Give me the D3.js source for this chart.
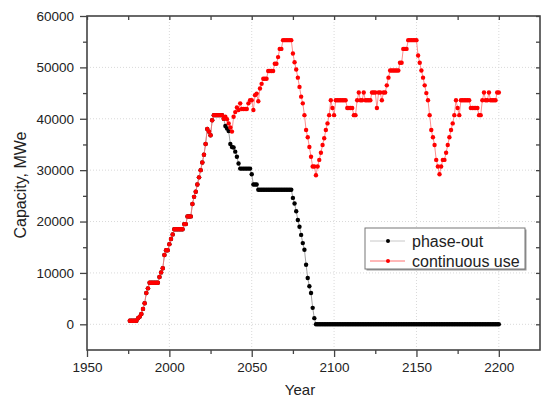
<!DOCTYPE html>
<html>
<head>
<meta charset="utf-8">
<script src="https://cdn.jsdelivr.net/npm/d3@7"></script>
<style>
  body { margin: 0; background: #fff; }
  text { font-family: Arial, "Liberation Sans", sans-serif; fill: #222; }
</style>
</head>
<body>
<div id="chart"></div>
<script>
const startYear = 1976;

// continuous use, one value per year from 1976 to 2200 (MWe)
const continuousUse = [
  700, 700, 700, 700, 700, 1200, 1500, 2000, 3000, 4100,
  6100, 7000, 8100, 8100, 8100, 8100, 8100, 8100, 9200, 10100,
  10900, 13500, 14400, 14400, 15600, 16600, 17500, 18500, 18500, 18500,
  18500, 18500, 18500, 19500, 19500, 21000, 21000, 21000, 23400, 24800,
  25800, 27200, 28600, 30000, 31500, 33000, 35100, 38000, 37500, 36800,
  39700, 40700, 40700, 40700, 40700, 40700, 40700, 40000, 40400, 39900,
  39100, 38300, 37500, 40400, 41300, 42200, 41700, 43000, 41900, 41900,
  41900, 41900, 43000, 43600, 43600, 41700, 44600, 44900, 43400, 45900,
  46800, 47800, 47800, 47800, 49300, 49300, 49300, 49300, 50700, 50700,
  52000, 53600, 53600, 55300, 55300, 55300, 55300, 55300, 55300, 52700,
  51000, 49600, 48000, 46200, 44300, 43000, 40700, 37800, 36400, 34500,
  32600, 30700, 30700, 29000, 30700, 32000, 33400, 34900, 36200, 37800,
  39100, 40700, 43600, 42100, 40700, 43600, 43600, 43600, 43600, 43600,
  43600, 43600, 42100, 42100, 42100, 42100, 40700, 40700, 43600, 45100,
  43600, 43600, 45100, 43600, 43600, 43600, 43600, 45100, 45100, 45100,
  42100, 45100, 45100, 43600, 45100, 45100, 46500, 48000, 49400, 49400,
  49400, 49400, 49400, 49400, 50900, 50900, 53600, 53600, 53600, 55300,
  55300, 55300, 55300, 55300, 55300, 52300, 50900, 49400, 48000, 46500,
  45000, 43600, 40700, 37800, 36400, 34900, 32000, 30700, 29200, 30700,
  32000, 32000, 33400, 34900, 36400, 37800, 39100, 40700, 43600, 42100,
  40700, 43600, 43600, 43600, 43600, 43600, 43600, 42100, 42100, 42100,
  42100, 42100, 40700, 40700, 43600, 45100, 43600, 43600, 45100, 43600,
  43600, 43600, 43600, 45100, 45100
];

// phase-out follows continuous use up to 2033, then these values from 2034 to 2200
const phaseOutSplit = 2034;
const phaseOutTail = [
  38600, 38100,
  37600, 35100, 34500, 34400, 33600, 32600, 31300, 30300, 30300, 30300,
  30300, 30300, 30300, 30300, 29200, 27200, 27200, 27200, 26200, 26200,
  26200, 26200, 26200, 26200, 26200, 26200, 26200, 26200, 26200, 26200,
  26200, 26200, 26200, 26200, 26200, 26200, 26200, 26200, 26200, 24600,
  23500, 22000, 20300, 19000, 17400, 15800, 14500, 11600, 9000, 7400,
  6100, 3200, 1200, 0, 0, 0, 0, 0, 0, 0,
  0, 0, 0, 0, 0, 0, 0, 0, 0, 0, 0, 0, 0, 0, 0, 0, 0, 0, 0, 0, 0,
  0, 0, 0, 0, 0, 0, 0, 0, 0, 0, 0, 0, 0, 0, 0, 0, 0, 0, 0, 0, 0,
  0, 0, 0, 0, 0, 0, 0, 0, 0, 0, 0, 0, 0, 0, 0, 0, 0, 0, 0, 0, 0,
  0, 0, 0, 0, 0, 0, 0, 0, 0, 0, 0, 0, 0, 0, 0, 0, 0, 0, 0, 0, 0,
  0, 0, 0, 0, 0, 0, 0, 0, 0, 0, 0, 0, 0, 0, 0, 0, 0, 0, 0, 0, 0
];

const seriesNames = ["phase-out", "continuous use"];
const seriesColors = ["#000000", "#ff0000"];
const lineColors = ["#8a8a8a", "#ff7070"];

const xTicks = [1950, 2000, 2050, 2100, 2150, 2200];
const xMinor = [1975, 2025, 2075, 2125, 2175];
const yTicks = [0, 10000, 20000, 30000, 40000, 50000, 60000];
const yMinor = [5000, 15000, 25000, 35000, 45000, 55000];

const width = 542, height = 400;
const margin = { top: 16, right: 2, bottom: 50, left: 87 };

const svg = d3
  .select("#chart")
  .append("svg")
  .attr("width", width)
  .attr("height", height);

const x = d3.scaleLinear().domain([1950, 2225]).range([margin.left, width - margin.right]);
const y = d3.scaleLinear().domain([-5000, 60000]).range([height - margin.bottom, margin.top]);

const contData = continuousUse.map((v, i) => ({ year: startYear + i, value: v }));
const phaseData = contData
  .filter((d) => d.year < phaseOutSplit)
  .concat(phaseOutTail.map((v, i) => ({ year: phaseOutSplit + i, value: v })));

// grid
const grid = svg.append("g").attr("stroke", "#d9d9d9").attr("stroke-dasharray", "1,2");
grid.selectAll(".gx")
  .data(xTicks.filter((d) => d > 1950))
  .enter().append("line")
  .attr("x1", (d) => x(d)).attr("x2", (d) => x(d))
  .attr("y1", y(-5000)).attr("y2", y(60000));
grid.selectAll(".gy")
  .data(yTicks.filter((d) => d < 60000))
  .enter().append("line")
  .attr("x1", x(1950)).attr("x2", x(2225))
  .attr("y1", (d) => y(d)).attr("y2", (d) => y(d));

// axes
function styleAxis(g) {
  g.select(".domain").remove();
  g.selectAll(".tick line").attr("stroke", "#444").attr("stroke-width", 1.3);
  g.selectAll(".tick text").attr("fill", "#222").style("font-size", "13.5px")
    .style("font-family", "Arial, 'Liberation Sans', sans-serif");
}

const bottom = height - margin.bottom;
const right = width - margin.right;

svg.append("g").attr("transform", `translate(0,${bottom})`)
  .call(d3.axisBottom(x).tickValues(xTicks).tickFormat(d3.format("d")).tickSize(7).tickPadding(5))
  .call(styleAxis);
svg.append("g").attr("transform", `translate(0,${bottom})`)
  .call(d3.axisBottom(x).tickValues(xMinor).tickFormat("").tickSize(4))
  .call(styleAxis);
svg.append("g").attr("transform", `translate(${margin.left},0)`)
  .call(d3.axisLeft(y).tickValues(yTicks).tickFormat(d3.format("d")).tickSize(7).tickPadding(6))
  .call(styleAxis);
svg.append("g").attr("transform", `translate(${margin.left},0)`)
  .call(d3.axisLeft(y).tickValues(yMinor).tickFormat("").tickSize(4))
  .call(styleAxis);
// top and right: inward ticks
svg.append("g").attr("transform", `translate(0,${margin.top})`)
  .call(d3.axisBottom(x).tickValues(xTicks.concat(xMinor)).tickFormat("").tickSize(4))
  .call(styleAxis);
svg.append("g").attr("transform", `translate(${right},0)`)
  .call(d3.axisLeft(y).tickValues(yTicks.concat(yMinor)).tickFormat("").tickSize(4))
  .call(styleAxis);

svg.append("rect")
  .attr("x", margin.left).attr("y", margin.top)
  .attr("width", right - margin.left).attr("height", bottom - margin.top)
  .attr("fill", "none").attr("stroke", "#444").attr("stroke-width", 1.6);

// series
const line = d3.line().x((d) => x(d.year)).y((d) => y(d.value));
[phaseData, contData].forEach(function (data, k) {
  svg.append("path")
    .datum(data)
    .attr("fill", "none")
    .attr("stroke", lineColors[k])
    .attr("stroke-width", 0.8)
    .attr("d", line);
  svg.append("g")
    .selectAll("circle")
    .data(data)
    .enter()
    .append("circle")
    .attr("cx", (d) => x(d.year))
    .attr("cy", (d) => y(d.value))
    .attr("r", 2.2)
    .attr("fill", seriesColors[k]);
});

// legend
const legend = svg.append("g").attr("transform", "translate(365,228)");
legend.append("rect")
  .attr("x", 1.5).attr("y", 1.5).attr("width", 160).attr("height", 41)
  .attr("fill", "#999");
legend.append("rect")
  .attr("width", 160).attr("height", 41)
  .attr("fill", "#fff").attr("stroke", "#777").attr("stroke-width", 1);
seriesNames.forEach(function (name, i) {
  const row = legend.append("g").attr("transform", `translate(0,${13 + i * 20})`);
  row.append("line")
    .attr("x1", 5).attr("x2", 40)
    .attr("stroke", i === 0 ? "#c8c8c8" : "#ff7070").attr("stroke-width", 1);
  row.append("circle").attr("cx", 23).attr("r", 2).attr("fill", seriesColors[i]);
  row.append("text").attr("x", 47).attr("y", 5.5)
    .style("font-size", "16px").text(name);
});

// axis titles
svg.append("text")
  .attr("x", 300).attr("y", 395)
  .attr("text-anchor", "middle")
  .style("font-size", "15px")
  .text("Year");
svg.append("text")
  .attr("transform", "translate(26,185) rotate(-90)")
  .attr("text-anchor", "middle")
  .style("font-size", "16px")
  .text("Capacity, MWe");
</script>
</body>
</html>
